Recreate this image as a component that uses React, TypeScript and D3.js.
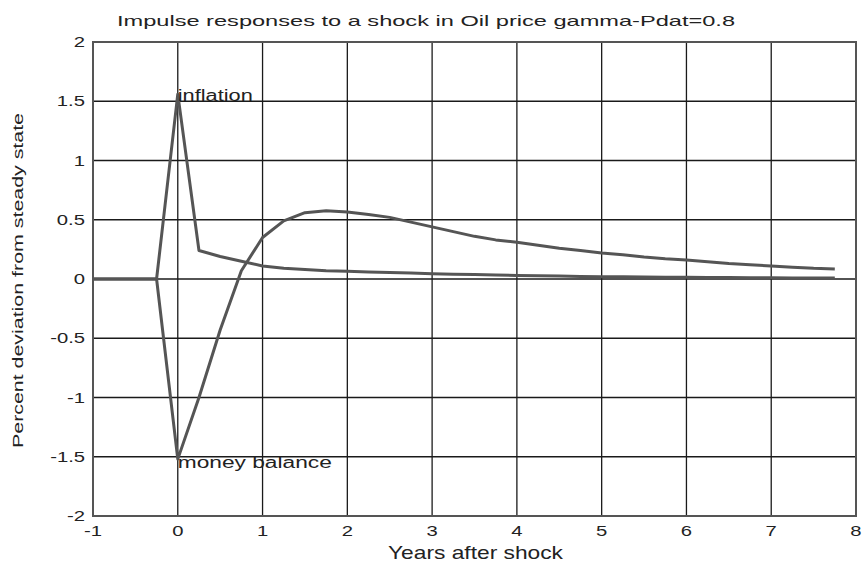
import React from "react";
import * as d3 from "d3";

const preQuarters = [-1, -0.75, -0.5, -0.25];
const quarterStep = 0.25;
const inflation = [
  1.56, 0.24, 0.19, 0.15, 0.11, 0.09, 0.08, 0.07, 0.065, 0.06, 0.055, 0.05,
  0.045, 0.04, 0.037, 0.034, 0.03, 0.027, 0.025, 0.022, 0.02, 0.018, 0.017,
  0.015, 0.014, 0.013, 0.012, 0.011, 0.01, 0.009, 0.009, 0.008,
];
const moneyBalance = [
  -1.52, -1.0, -0.43, 0.07, 0.35, 0.49, 0.56, 0.575, 0.565, 0.545, 0.52, 0.48,
  0.44, 0.4, 0.36, 0.33, 0.31, 0.285, 0.26, 0.24, 0.22, 0.205, 0.185, 0.17,
  0.16, 0.145, 0.13, 0.12, 0.11, 0.1, 0.09, 0.085,
];
const xTicks = [-1, 0, 1, 2, 3, 4, 5, 6, 7, 8];
const yTicks = [-2, -1.5, -1, -0.5, 0, 0.5, 1, 1.5, 2];
const title = "Impulse responses to a shock in Oil price gamma-Pdat=0.8";
const xLabel = "Years after shock";
const yLabel = "Percent deviation from steady state";
const seriesLabels = ["inflation", "money balance"];

const W = 866;
const H = 565;
const L = 93, R = 856, T = 42, B = 516;
const FONT = "'Liberation Sans', Arial, sans-serif";

export default function App() {
  const x = d3.scaleLinear().domain([-1, 8]).range([L, R]);
  const y = d3.scaleLinear().domain([-2, 2]).range([B, T]);

  const build = (vals: number[]) => {
    const pts: [number, number][] = preQuarters.map((q) => [q, 0]);
    vals.forEach((v, i) => pts.push([i * quarterStep, v]));
    return pts;
  };
  const line = d3
    .line<[number, number]>()
    .x((d) => x(d[0]))
    .y((d) => y(d[1]));

  const lineColor = "#555";
  const gridColor = "#1a1a1a";

  return (
    <svg
      width={W}
      height={H}
      style={{ position: "absolute", left: 0, top: 0, background: "#fff" }}
      fontFamily={FONT}
    >
      <rect x={0} y={0} width={W} height={H} fill="#fff" />
      {/* grid */}
      {xTicks.map((t) => (
        <line key={"gx" + t} x1={x(t)} x2={x(t)} y1={T} y2={B} stroke={gridColor} strokeWidth={1.3} />
      ))}
      {yTicks.map((t) => (
        <line key={"gy" + t} x1={L} x2={R} y1={y(t)} y2={y(t)} stroke={gridColor} strokeWidth={1.3} />
      ))}
      {/* series */}
      <path d={line(build(inflation)) || ""} fill="none" stroke={lineColor} strokeWidth={3} strokeLinejoin="round" />
      <path d={line(build(moneyBalance)) || ""} fill="none" stroke={lineColor} strokeWidth={3} strokeLinejoin="round" />
      {/* frame */}
      <rect x={L} y={T} width={R - L} height={B - T} fill="none" stroke="#555" strokeWidth={2} />
      {/* tick labels */}
      {xTicks.map((t) => (
        <text
          key={"tx" + t}
          transform={`translate(${x(t)},536) scale(1.35,1)`}
          textAnchor="middle"
          fontSize={15}
          fill="#222"
        >
          {String(t)}
        </text>
      ))}
      {yTicks.map((t) => (
        <text
          key={"ty" + t}
          transform={`translate(85,${y(t) + 5}) scale(1.35,1)`}
          textAnchor="end"
          fontSize={15}
          fill="#222"
        >
          {String(t)}
        </text>
      ))}
      {/* series labels */}
      <text x={x(0)} y={y(1.5)} fontSize={16} fill="#222" textLength={75} lengthAdjust="spacingAndGlyphs">
        {seriesLabels[0]}
      </text>
      <text x={x(0)} y={468} fontSize={16} fill="#222" textLength={154} lengthAdjust="spacingAndGlyphs">
        {seriesLabels[1]}
      </text>
      {/* title */}
      <text x={117} y={26} fontSize={15} fill="#222" textLength={618} lengthAdjust="spacingAndGlyphs">
        {title}
      </text>
      {/* x label */}
      <text x={388} y={559} fontSize={19} fill="#222" textLength={175} lengthAdjust="spacingAndGlyphs">
        {xLabel}
      </text>
      {/* y label */}
      <text
        transform="translate(23,448) rotate(-90)"
        fontSize={15}
        fill="#222"
        textLength={335}
        lengthAdjust="spacingAndGlyphs"
      >
        {yLabel}
      </text>
    </svg>
  );
}
